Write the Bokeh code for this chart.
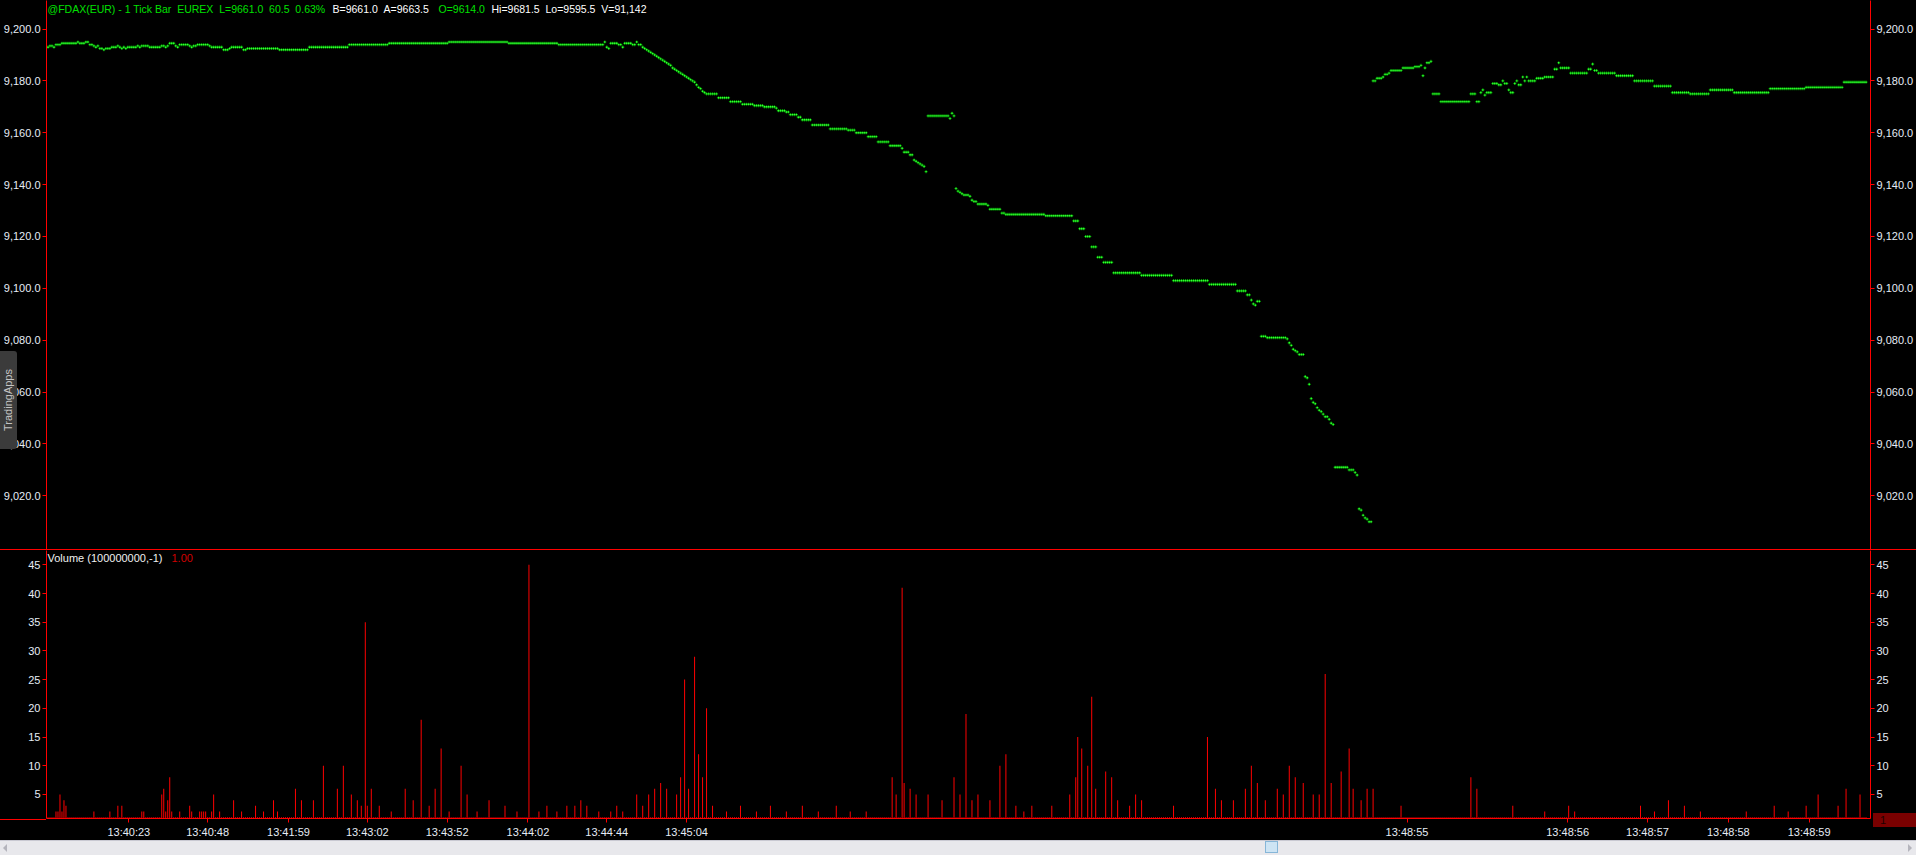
import numpy as np
from bokeh.plotting import figure
from bokeh.models import (Range1d, LinearAxis, FixedTicker, NumeralTickFormatter, Label, Div,
                          GlobalInlineStyleSheet, InlineStyleSheet)
from bokeh.layouts import column
from bokeh.embed import file_html
from bokeh.resources import INLINE

FONT = "Liberation Sans"
NB = "\u00a0"

# ---------------- data ----------------
# price per tick bar, as (price, number of consecutive bars)
PRICE_FLAT = [
    (9193, 1), (9193.5, 2), (9193, 1), (9194, 3), (9194.5, 8), (9195, 1), (9194.5, 3), (9195, 2),
    (9194, 2), (9193.5, 1), (9193, 1), (9193.5, 1), (9192.5, 2), (9192, 1), (9192.5, 3), (9193, 3),
    (9193.5, 1), (9193, 1), (9192.5, 1), (9193, 1), (9192.5, 1), (9193, 5), (9193.5, 1), (9193, 1),
    (9193.5, 4), (9193, 6), (9193.5, 2), (9193, 1), (9193.5, 1), (9194.5, 3), (9193.5, 1), (9193, 1),
    (9194, 5), (9193.5, 1), (9193, 1), (9193.5, 2), (9194, 6), (9193.5, 1), (9193, 6), (9192, 3),
    (9192.5, 1), (9193, 6), (9192, 2),
    (9192.5, 16), (9192, 15), (9193, 20), (9194, 20), (9194.5, 30), (9195, 30), (9194.5, 25), (9194, 22),
    (9194, 1), (9195, 1), (9193, 1), (9192.5, 1), (9194.5, 4), (9194, 2), (9193, 1), (9194.5, 4),
    (9194, 2), (9195, 1), (9194, 2),
]
PRICE_SLIDE = [
    (9193, 1), (9192.5, 1), (9192, 1), (9191.5, 1), (9191, 1), (9190.5, 1), (9190, 1), (9189.5, 1),
    (9189, 1), (9188.5, 1), (9188, 1), (9187.5, 1), (9187, 1), (9186.5, 1), (9186, 1), (9185, 1),
    (9184.5, 1), (9184, 1), (9183.5, 1), (9183, 1), (9182.5, 1), (9182, 1), (9181.5, 1), (9181, 1),
    (9180.5, 1), (9180, 1), (9179.5, 1), (9178.5, 1), (9177.5, 1), (9177, 1), (9176, 1), (9175.5, 1),
    (9175, 6), (9173.5, 6), (9172, 6), (9171, 6), (9170.5, 5), (9170, 6), (9169.5, 1), (9168.5, 4),
    (9168, 2), (9167, 4), (9166, 2), (9165, 5), (9163, 9), (9161.5, 9), (9161, 4), (9160, 6),
    (9158.5, 5), (9156.5, 6), (9155, 6), (9154, 1), (9152.5, 3), (9151.5, 2),
    (9149.5, 1), (9149, 1), (9148.5, 1), (9148, 1), (9147.5, 1), (9147, 1), (9145, 1),
    (9166.5, 11), (9165.5, 1), (9167.5, 1), (9166.5, 1),
    (9138.5, 1), (9137.5, 1), (9137, 1), (9136.5, 1), (9136, 3), (9135.5, 1), (9134, 1), (9133.5, 2),
    (9132.5, 5), (9132, 1), (9130.5, 6), (9129, 2),
]
PRICE_STEPS = [
    (9128.5, 20), (9128, 14), (9126, 3), (9123, 3), (9120, 3), (9116, 3), (9112, 3), (9110, 5),
    (9106, 14), (9105, 16), (9103, 18), (9101.5, 14), (9099, 5), (9097.5, 2), (9095.5, 1), (9094, 1),
    (9093.5, 1), (9095, 2), (9081.5, 3), (9081, 10), (9080.5, 1), (9079, 1), (9078, 1), (9076.5, 1),
    (9076, 1), (9075.5, 1), (9074.5, 3),
    (9066, 1), (9065.5, 1), (9063, 1), (9057.5, 1), (9056, 1), (9055.5, 1), (9054, 1), (9053, 1),
    (9052.5, 1), (9051.5, 1), (9050.5, 2), (9049.5, 1), (9048, 1), (9047.5, 1),
    (9031, 7), (9030, 3), (9029, 1), (9028, 1), (9015, 1), (9014.5, 1), (9012.5, 1), (9011.5, 1),
    (9011, 1), (9010, 2),
]
PRICE_REBOUND = [
    (9180, 2), (9181, 3), (9181.5, 1), (9182.5, 2), (9183, 1), (9184, 6), (9185, 6), (9185.5, 3),
    (9186, 1), (9182, 1), (9185, 1), (9187, 2), (9187.5, 1),
    (9175, 4), (9172, 15), (9175, 3), (9172, 2), (9175.5, 1), (9176.5, 1), (9174.5, 1), (9175.5, 3),
    (9179, 3), (9178.5, 2), (9180, 1), (9179, 2), (9176.5, 1), (9175.5, 2), (9179, 1), (9180, 1),
    (9178.5, 2), (9181.5, 1), (9180, 1), (9181.5, 1),
    (9180, 4), (9181, 4), (9181.5, 5), (9184.5, 2), (9187, 1), (9185, 5), (9183, 9), (9184.5, 2),
    (9186.5, 1), (9184, 2), (9183, 9), (9182, 9), (9180, 10), (9178, 9), (9175.5, 9), (9175, 10),
    (9176.5, 12), (9175.5, 18), (9177, 18), (9177.5, 19), (9179.5, 12),
]

# volume per tick bar: bars not listed traded 1 contract
VOL_BASE = 1
VOL_BARS = [
    (4, 2), (5, 2), (6, 5), (7, 2), (8, 4), (9, 3), (23, 2), (31, 2), (35, 3), (37, 3), (47, 2),
    (48, 2), (57, 5), (58, 6), (59, 2), (60, 4), (61, 8), (62, 2), (66, 2), (71, 3), (72, 2),
    (76, 2), (77, 2), (78, 2), (79, 2), (82, 2), (83, 5), (86, 2), (93, 4), (97, 2),
    (104, 3), (108, 2), (113, 4), (115, 2), (124, 6), (127, 4), (133, 4), (138, 10), (145, 6),
    (148, 10), (152, 5), (155, 4), (157, 3), (159, 35), (160, 3), (162, 6), (166, 3), (172, 2),
    (179, 6), (183, 4), (187, 18), (191, 3), (194, 6), (197, 13), (201, 2), (207, 10), (210, 5),
    (215, 2), (221, 4), (229, 3), (235, 2), (241, 45), (246, 2), (250, 3), (255, 2), (260, 3),
    (264, 3), (267, 4), (270, 3), (276, 2), (282, 2), (285, 3), (288, 2), (295, 5), (298, 3),
    (301, 5), (304, 6), (307, 7), (310, 6), (315, 5), (317, 8), (319, 25), (321, 6), (324, 29),
    (326, 12), (328, 8), (330, 20), (333, 3), (340, 2), (347, 3), (355, 2), (362, 3), (370, 2),
    (378, 3), (386, 2), (395, 3), (402, 2), (410, 2), (423, 8), (425, 5), (428, 41), (429, 7),
    (432, 6), (435, 5), (441, 5), (448, 4), (454, 8), (457, 5), (460, 19), (463, 4), (466, 5),
    (472, 4), (477, 10), (480, 12), (485, 3), (489, 2), (493, 3), (503, 3), (512, 5), (515, 8),
    (516, 15), (518, 13), (521, 10), (523, 22), (525, 6), (530, 9), (533, 8), (536, 4), (542, 3),
    (545, 5), (548, 4), (564, 3), (581, 15), (585, 6), (588, 4), (594, 4), (600, 6), (603, 10),
    (606, 7), (610, 4), (616, 6), (619, 5), (622, 10), (625, 8), (629, 7), (634, 5), (637, 5),
    (640, 26), (643, 7), (648, 9), (652, 13), (654, 6), (658, 4), (661, 6), (664, 6), (678, 3),
    (713, 8), (716, 6), (734, 3), (750, 2), (762, 3), (765, 2), (798, 3), (805, 2), (812, 4),
    (820, 3), (828, 2), (851, 2), (865, 3), (872, 2), (881, 3), (887, 5), (897, 3), (901, 6),
    (908, 5),
]

TIME_LABELS = ["13:40:23", "13:40:48", "13:41:59", "13:43:02", "13:43:52", "13:44:02",
               "13:44:44", "13:45:04", "13:48:55", "13:48:56", "13:48:57", "13:48:58",
               "13:48:59"]
TIME_BARS = [40.5, 80, 120.5, 160, 200, 240.5, 280, 320, 681, 761.5, 801.5, 842, 882.5]

PRICE_TICKS = [9020, 9040, 9060, 9080, 9100, 9120, 9140, 9160, 9180, 9200]
VOL_TICKS = [5, 10, 15, 20, 25, 30, 35, 40, 45]

# ---------------- build series ----------------
runs = PRICE_FLAT + PRICE_SLIDE + PRICE_STEPS + PRICE_REBOUND
price = np.repeat([r[0] for r in runs], [r[1] for r in runs]).astype(float)
n = len(price)
idx = np.arange(n)
vol = np.full(n, VOL_BASE, dtype=float)
for i, v in VOL_BARS:
    if i < n:
        vol[i] = v

# ---------------- style ----------------
RED = "#ff0000"
LBL = "#e6ecf6"
W = 1916
LEFT, RIGHT = 45, 43
XR = Range1d(-0.75, -0.75 + (W - LEFT - RIGHT) / 2.0)


def style_axis(ax):
    ax.axis_line_color = RED
    ax.major_tick_line_color = RED
    ax.major_tick_out = 4
    ax.major_tick_in = 0
    ax.minor_tick_line_color = None
    ax.major_label_text_color = LBL
    ax.major_label_text_font = FONT
    ax.major_label_text_font_size = "11px"
    ax.major_label_standoff = 2


def base_fig(h, yr, bottom):
    f = figure(width=W, height=h, x_range=XR, y_range=yr, output_backend="svg",
               toolbar_location=None, min_border_left=LEFT, min_border_right=RIGHT,
               min_border_top=0, min_border_bottom=bottom,
               background_fill_color="black", border_fill_color="black")
    f.outline_line_color = None
    f.grid.visible = False
    return f


def text_label(fig, x, y, txt, col, size="11px", **kw):
    fig.add_layout(Label(x=x, y=y, x_units="screen", y_units="screen", text=txt,
                         text_color=col, text_font=FONT, text_font_size=size,
                         text_baseline="middle", **kw))


# price pane
pp = base_fig(549, Range1d(8999.3, 9211.0), 0)
pp.xaxis.visible = False
pp.yaxis.ticker = FixedTicker(ticks=PRICE_TICKS)
pp.yaxis.formatter = NumeralTickFormatter(format="0,0.0")
style_axis(pp.yaxis[0])
rax = LinearAxis(ticker=FixedTicker(ticks=PRICE_TICKS), formatter=NumeralTickFormatter(format="0,0.0"))
style_axis(rax)
pp.add_layout(rax, "right")
pp.scatter(idx, price, marker="plus", size=3.2, fill_color="#008a00", line_color=None)
pp.scatter(idx, price, marker="square", size=1.4, fill_color="#30ff30", line_color=None)

GREEN = "#00e000"
text_label(pp, 1, 541, f"@FDAX(EUR) - 1 Tick Bar{NB*2}EUREX{NB*2}L=9661.0{NB*2}60.5{NB*2}0.63%",
           GREEN, "10.5px")
text_label(pp, 286, 541, f"B=9661.0{NB*2}A=9663.5", "#ffffff", "10.5px")
text_label(pp, 392, 541, "O=9614.0", GREEN, "10.5px")
text_label(pp, 445, 541, f"Hi=9681.5{NB*2}Lo=9595.5{NB*2}V=91,142", "#ffffff", "10.5px")

# separator line between the panes
sep = Div(width=W, height=1, margin=(0, 0, 0, 0), styles={"background-color": RED})

# volume pane
vp = base_fig(290, Range1d(0.8, 47.5), 21)
vp.yaxis.ticker = FixedTicker(ticks=VOL_TICKS)
style_axis(vp.yaxis[0])
vr = LinearAxis(ticker=FixedTicker(ticks=VOL_TICKS))
style_axis(vr)
vp.add_layout(vr, "right")
vp.xaxis.ticker = FixedTicker(ticks=TIME_BARS)
vp.xaxis.major_label_overrides = {t: s for t, s in zip(TIME_BARS, TIME_LABELS)}
style_axis(vp.xaxis[0])
vp.xaxis.major_label_standoff = 3
vp.vbar(x=idx, top=vol, bottom=0, width=0.5, fill_color=RED, line_color=None)
text_label(vp, 1, 261, "Volume (100000000,-1)", "#f0f0f0")
text_label(vp, 125, 261, "1.00", "#d00000")

# scrollbar; it also carries the side tab, the last-value marker and the left end of the
# bottom line, which sit outside the plot frames
OVERFLOW = InlineStyleSheet(css=":host{overflow:visible !important;z-index:5;} "
                                "div{overflow:visible !important;}")
scroll = Div(width=W, height=15, margin=(0, 0, 0, 0), stylesheets=[OVERFLOW],
             styles={"overflow": "visible", "z-index": "5"}, text=(
    '<div style="position:relative;width:1916px;height:15px;background:#e8e8ec;'
    'border-top:1px solid #c9c9d2;box-sizing:border-box;">'
    '<div style="position:absolute;left:0px;top:-490px;width:17px;height:98px;'
    'background:#3b3b3b;border-radius:0 3px 3px 0;display:flex;align-items:center;'
    'justify-content:center;">'
    '<span style="writing-mode:vertical-rl;transform:rotate(180deg);'
    "font-family:'Liberation Sans';font-size:11px;color:#c4c4c4;white-space:nowrap;\">"
    'TradingApps</span></div>'
    '<div style="position:absolute;left:0px;top:-22px;width:46px;height:1px;background:#ff0000;"></div>'
    '<div style="position:absolute;left:1873px;top:-28px;width:43px;height:14px;background:#7a0000;'
    "font-family:'Liberation Sans';font-size:11px;line-height:14px;color:#1e0000;"
    'padding-left:7px;box-sizing:border-box;">1</div>'
    '<div style="position:absolute;left:3px;top:3px;width:0;height:0;'
    'border-top:4px solid transparent;border-bottom:4px solid transparent;'
    'border-right:4px solid #b4b4bc"></div>'
    '<div style="position:absolute;left:1265px;top:0px;width:13px;height:12px;'
    'background:#cde4f4;border:1px solid #86b6d8"></div>'
    '<div style="position:absolute;right:4px;top:3px;width:0;height:0;'
    'border-top:4px solid transparent;border-bottom:4px solid transparent;'
    'border-left:4px solid #b4b4bc"></div></div>'))

layout = column(pp, sep, vp, scroll, spacing=0)
layout.stylesheets = [GlobalInlineStyleSheet(
    css="html, body { margin: 0 !important; padding: 0; background: #000; overflow: hidden; }")]

open("out.html", "w").write(file_html(layout, INLINE))
